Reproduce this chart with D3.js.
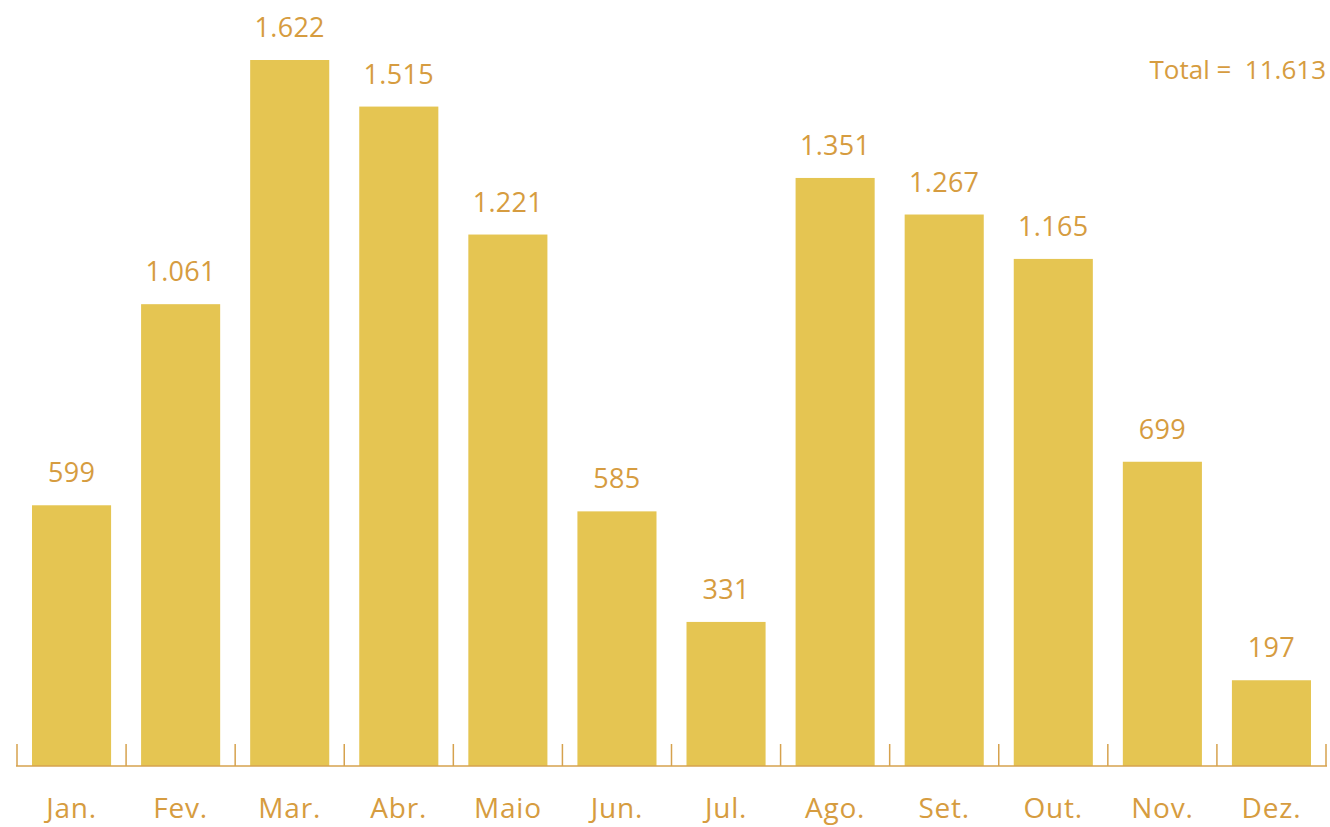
<!DOCTYPE html>
<html>
<head>
<meta charset="utf-8">
<script src="https://cdn.jsdelivr.net/npm/d3@7"></script>
<style>
  html, body { margin: 0; padding: 0; background: #ffffff; }
  svg { display: block; }
  text { font-family: "Open Sans", "Noto Sans", sans-serif; font-weight: 400; }
</style>
</head>
<body>
<svg id="chart" width="1330" height="827"></svg>
<script>
// Monthly counts
const months = ["Jan.", "Fev.", "Mar.", "Abr.", "Maio", "Jun.", "Jul.", "Ago.", "Set.", "Out.", "Nov.", "Dez."];
const values = [599, 1061, 1622, 1515, 1221, 585, 331, 1351, 1267, 1165, 699, 197];
const totalLabel = "Total =  11.613";

const barColor = "#E5C552";
const textColor = "#D69C40";
const axisColor = "#D6A24E";

const baseline = 766;

const svg = d3.select("#chart");

const x = d3.scaleBand()
  .domain(months)
  .range([17, 1326])
  .paddingInner(0.275)
  .paddingOuter(0.1375);

const y = d3.scaleLinear()
  .domain([0, 1622])
  .range([baseline, 60]);

// Brazilian-style thousands separator
const fmt = v => d3.format(",")(v).replace(/,/g, ".");

// Bars
svg.append("g")
  .selectAll("rect")
  .data(values)
  .join("rect")
  .attr("x", (d, i) => x(months[i]))
  .attr("y", d => y(d))
  .attr("width", x.bandwidth())
  .attr("height", d => baseline - y(d))
  .attr("fill", barColor);

// Value labels
svg.append("g")
  .selectAll("text")
  .data(values)
  .join("text")
  .attr("x", (d, i) => x(months[i]) + x.bandwidth() / 2)
  .attr("y", d => y(d) - 23)
  .attr("text-anchor", "middle")
  .attr("font-size", 27)
  .attr("letter-spacing", 0.3)
  .attr("fill", textColor)
  .text(d => fmt(d));

// Baseline and category separators
const axis = svg.append("g").attr("stroke", axisColor).attr("stroke-width", 1.5);
axis.append("line")
  .attr("x1", 16).attr("x2", 1327)
  .attr("y1", baseline).attr("y2", baseline);

const step = x.step();
const start = x(months[0]) - x.paddingOuter() * step;
const bounds = d3.range(months.length + 1).map(i => start + i * step);
axis.selectAll("line.sep")
  .data(bounds)
  .join("line")
  .attr("class", "sep")
  .attr("x1", d => d).attr("x2", d => d)
  .attr("y1", baseline - 22).attr("y2", baseline);

// Month labels
svg.append("g")
  .selectAll("text")
  .data(months)
  .join("text")
  .attr("x", d => x(d) + x.bandwidth() / 2)
  .attr("y", 818)
  .attr("text-anchor", "middle")
  .attr("font-size", 28)
  .attr("letter-spacing", 0.8)
  .attr("fill", textColor)
  .text(d => d);

// Total
svg.append("text")
  .attr("x", 1326)
  .attr("y", 79)
  .attr("text-anchor", "end")
  .attr("font-size", 26)
  .attr("fill", textColor)
  .attr("xml:space", "preserve")
  .style("white-space", "pre")
  .text(totalLabel);
</script>
</body>
</html>
